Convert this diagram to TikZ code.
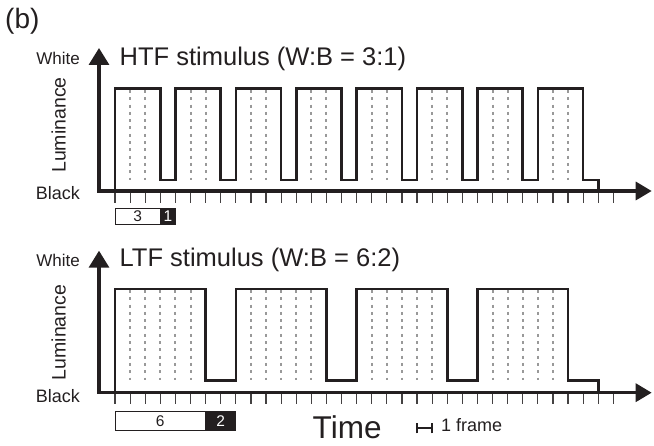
\documentclass[tikz,border=0pt]{standalone}
\usepackage{fontspec}
\setmainfont{Liberation Sans}
\usetikzlibrary{arrows.meta}
\definecolor{ink}{HTML}{231F20}
\definecolor{dashgray}{HTML}{999999}
\begin{document}
\begin{tikzpicture}[x=1pt,y=-1pt,
  axisline/.style={ink,line width=3.3pt,line join=miter,
     {Triangle[width=20pt,length=17pt]}-{Triangle[width=18pt,length=16pt]}},
  wave/.style={ink,line width=2.6pt,line join=miter},
  tickline/.style={ink!85,line width=1.2pt},
  framedash/.style={dashgray,line width=2pt,dash pattern=on 3pt off 4.3pt},
  boxline/.style={ink,line width=1pt},
  txt/.style={inner sep=0pt,text=ink},
  ]
\useasboundingbox (0,0) rectangle (654,446);
\def\fx{15.1}
% label
\node[txt,anchor=base west,font=\fontsize{28}{30}\selectfont] (lblb) at (5,28.5) {(b)};

% ================= TOP PANEL =================
\foreach \k in {0,...,7}{
  \foreach \j in {1,2}{
    \draw[framedash] ({115+\fx*(4*\k+\j)},90) -- ({115+\fx*(4*\k+\j)},180);
  }
}
\foreach \i in {0,...,33}{
  \draw[tickline] ({115+\fx*\i},191) -- ({115+\fx*\i},203);
}
\draw[wave] (115,191) -- (115,88.7)
  \foreach \k in {0,...,6}{
    -- ({115+\fx*(4*\k+3)},88.7) -- ({115+\fx*(4*\k+3)},180)
    -- ({115+\fx*(4*\k+4)},180) -- ({115+\fx*(4*\k+4)},88.7)
  }
  -- ({115+\fx*31},88.7) -- ({115+\fx*31},180) -- ({115+\fx*32},180) -- ({115+\fx*32},191);
\draw[axisline] (99,48) -- (99,191) -- (651.7,191);

\node[txt,anchor=base east,font=\fontsize{17}{20}\selectfont] (white1) at (80,64.3) {White};
\node[txt,anchor=base west,font=\fontsize{25.5}{28}\selectfont] (title1) at (119.5,65.7) {HTF stimulus (W:B = 3:1)};
\node[txt,anchor=base east,font=\fontsize{18}{20}\selectfont] (black1) at (80,199.3) {Black};
\node[txt,rotate=90,anchor=base,font=\fontsize{19.5}{22}\selectfont] (lum1) at (65.7,125) {Luminance};

\draw[boxline,fill=white] (115,208.3) rectangle ({115+\fx*3},224.3);
\draw[boxline,fill=ink] ({115+\fx*3},208.3) rectangle ({115+\fx*4},224.3);
\node[txt,font=\fontsize{15.5}{17}\selectfont] (n3) at ({115+\fx*1.5},216.3) {3};
\node[txt,text=white,font=\fontsize{15.5}{17}\selectfont] (n1) at ({115+\fx*3.5},216.3) {1};

% ================= BOTTOM PANEL =================
\foreach \k in {0,...,3}{
  \foreach \j in {1,...,5}{
    \draw[framedash] ({115+\fx*(8*\k+\j)},290) -- ({115+\fx*(8*\k+\j)},380.3);
  }
}
\foreach \i in {0,...,33}{
  \draw[tickline] ({115+\fx*\i},392.7) -- ({115+\fx*\i},404);
}
\draw[wave] (115,392.7) -- (115,289)
  \foreach \k in {0,...,2}{
    -- ({115+\fx*(8*\k+6)},289) -- ({115+\fx*(8*\k+6)},380.3)
    -- ({115+\fx*(8*\k+8)},380.3) -- ({115+\fx*(8*\k+8)},289)
  }
  -- ({115+\fx*30},289) -- ({115+\fx*30},380.3) -- ({115+\fx*32},380.3) -- ({115+\fx*32},392.7);
\draw[axisline] (99,250.7) -- (99,392.7) -- (651.7,392.7);

\node[txt,anchor=base east,font=\fontsize{17}{20}\selectfont] (white2) at (80,266.7) {White};
\node[txt,anchor=base west,font=\fontsize{25.5}{28}\selectfont] (title2) at (119.5,266.7) {LTF stimulus (W:B = 6:2)};
\node[txt,anchor=base east,font=\fontsize{18}{20}\selectfont] (black2) at (80,402.7) {Black};
\node[txt,rotate=90,anchor=base,font=\fontsize{19.5}{22}\selectfont] (lum2) at (65.7,332.5) {Luminance};

\draw[boxline,fill=white] (115,411.7) rectangle ({115+\fx*6},430.3);
\draw[boxline,fill=ink] ({115+\fx*6},411.7) rectangle ({115+\fx*8},430.3);
\node[txt,font=\fontsize{15.5}{17}\selectfont] (n6) at ({115+\fx*3},421) {6};
\node[txt,text=white,font=\fontsize{15.5}{17}\selectfont] (n2) at ({115+\fx*7},421) {2};

% ================= TIME / FRAME =================
\node[txt,anchor=base west,font=\fontsize{31.5}{34}\selectfont] (time) at (312.5,439) {Time};
\coordinate (fa) at (416.7,428.3);
\coordinate (fb) at ({416.7+\fx},428.3);
\draw[ink,line width=1.8pt] (fa) -- (fb)
  ([yshift=-5pt]fa) -- ([yshift=5pt]fa)
  ([yshift=-5pt]fb) -- ([yshift=5pt]fb);
\node[txt,anchor=base west,font=\fontsize{18}{20}\selectfont] (frame) at (441,431.7) {1 frame};
\end{tikzpicture}
\end{document}
